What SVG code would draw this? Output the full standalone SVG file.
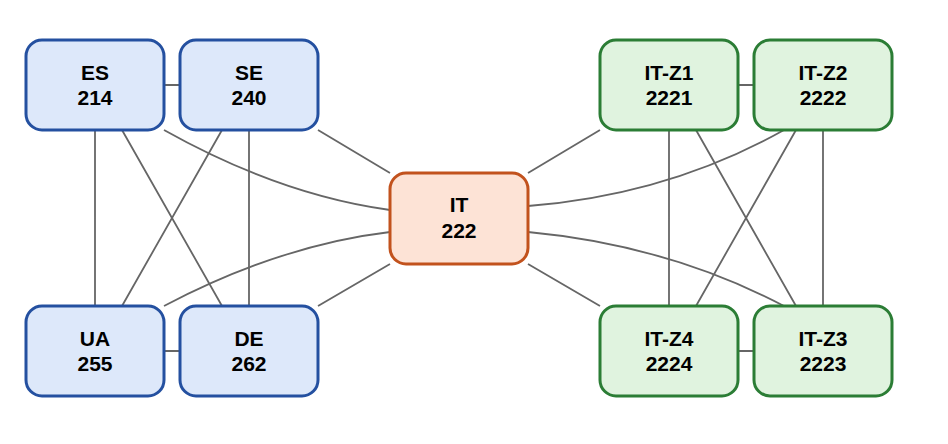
<svg xmlns="http://www.w3.org/2000/svg" width="948" height="444" viewBox="0 0 948 444">
<style>
.b rect{fill:#dde8fa;stroke:#2450a0;stroke-width:3}
.o rect{fill:#fde3d6;stroke:#c2521d;stroke-width:3}
.g rect{fill:#e0f3df;stroke:#2b7d35;stroke-width:3}
text{font-family:"Liberation Sans",Arial,sans-serif;font-weight:bold;font-size:21px;fill:#000;text-anchor:middle}
#edges path{fill:none;stroke:#666;stroke-width:1.8}
</style>
<rect width="948" height="444" fill="#fff"/>
<g id="edges">
<path d="M164 85H180M164 351H180M95 130V306M249 130V306M122 130L222 306M222 130L122 306"/>
<path d="M164 130Q280 195 390 210M318 130L390 173M164 306Q280 245 390 232M318 306L390 264"/>
<path d="M738 85H754M738 351H754M669 130V306M823 130V306M696 130L796 306M796 130L696 306"/>
<path d="M600 130L528 173M784 130Q668 195 528 206M600 306L528 264M784 306Q668 245 528 232"/>
</g>
<g id="ES" class="b"><rect x="26" y="40" width="138" height="90" rx="16"/><text x="95" y="80">ES</text><text x="95" y="105">214</text></g>
<g id="SE" class="b"><rect x="180" y="40" width="138" height="90" rx="16"/><text x="249" y="80">SE</text><text x="249" y="105">240</text></g>
<g id="UA" class="b"><rect x="26" y="306" width="138" height="90" rx="16"/><text x="95" y="346">UA</text><text x="95" y="371">255</text></g>
<g id="DE" class="b"><rect x="180" y="306" width="138" height="90" rx="16"/><text x="249" y="346">DE</text><text x="249" y="371">262</text></g>
<g id="IT" class="o"><rect x="390" y="173" width="138" height="91" rx="16"/><text x="459" y="212">IT</text><text x="459" y="238">222</text></g>
<g id="IT-Z1" class="g"><rect x="600" y="40" width="138" height="90" rx="16"/><text x="669" y="80">IT-Z1</text><text x="669" y="105">2221</text></g>
<g id="IT-Z2" class="g"><rect x="754" y="40" width="138" height="90" rx="16"/><text x="823" y="80">IT-Z2</text><text x="823" y="105">2222</text></g>
<g id="IT-Z4" class="g"><rect x="600" y="306" width="138" height="90" rx="16"/><text x="669" y="346">IT-Z4</text><text x="669" y="371">2224</text></g>
<g id="IT-Z3" class="g"><rect x="754" y="306" width="138" height="90" rx="16"/><text x="823" y="346">IT-Z3</text><text x="823" y="371">2223</text></g>
</svg>
